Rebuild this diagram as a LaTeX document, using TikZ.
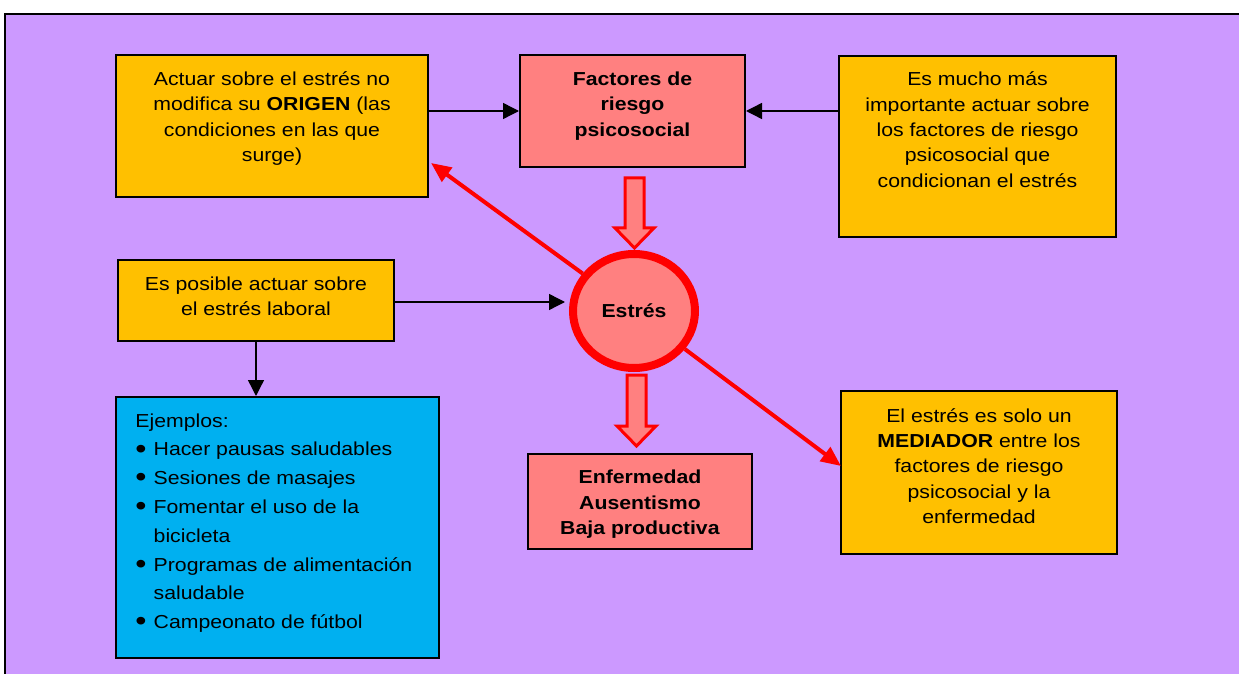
\documentclass[tikz,border=0pt]{standalone}
\usepackage{fontspec}
\setmainfont{Liberation Sans}
\usepackage{graphicx}
\usetikzlibrary{shapes.geometric,arrows.meta,calc}
\definecolor{bgpurple}{HTML}{CC99FF}
\definecolor{boxorange}{HTML}{FFC000}
\definecolor{boxpink}{HTML}{FF8080}
\definecolor{boxblue}{HTML}{00B0F0}
\definecolor{arrred}{HTML}{FF0000}
\newcommand{\txc}[1]{\scalebox{1.13}[1]{\begin{tabular}{@{}c@{}}#1\end{tabular}}}
\newcommand{\txl}[1]{\scalebox{1.13}[1]{\begin{tabular}{@{}l@{}}#1\end{tabular}}}
\newcommand{\bul}{\makebox[8.1pt][l]{\raisebox{-1.1pt}{\scalebox{1.5}{\textbullet}}}}
\begin{document}
\begin{tikzpicture}[x=0.5pt,y=-0.5pt,
  every node/.style={font=\fontsize{9.4}{12.65}\selectfont},
  box/.style={draw=black, line width=1pt, rectangle, inner sep=0pt},
  orangebox/.style={box, fill=boxorange},
  pinkbox/.style={box, fill=boxpink},
  bluebox/.style={box, fill=boxblue},
  txt/.style={inner sep=0pt, anchor=north},
  blk/.style={draw=black, line width=0.7pt, -{Triangle[length=8pt,width=8pt]}},
  redarr/.style={draw=arrred, line width=2pt, -{Triangle[length=10pt,width=8.5pt]}},
  fatarrow/.style={draw=arrred, line width=1.5pt, fill=boxpink, line join=miter}
]
\clip (0,0) rectangle (1239,674);
% background frame
\draw[fill=bgpurple, line width=1pt] (5,14) rectangle (1300,720);

% boxes
\node[orangebox, minimum width=156pt, minimum height=71pt] (box1) at (272,126) {};
\node[pinkbox, minimum width=112.5pt, minimum height=56pt] (fact) at (632.5,111) {};
\node[orangebox, minimum width=138.5pt, minimum height=90.5pt] (box3) at (977.5,146.5) {};
\node[orangebox, minimum width=138pt, minimum height=40.5pt] (box4) at (256,300.5) {};
\node[bluebox, minimum width=161.5pt, minimum height=130.5pt] (blue) at (277.5,527.5) {};
\node[pinkbox, minimum width=112pt, minimum height=47.5pt] (enf) at (640,501.5) {};
\node[orangebox, minimum width=138pt, minimum height=81.5pt] (box8) at (979,472.5) {};
\node[ellipse, draw=arrred, fill=boxpink, line width=4pt, minimum width=61pt, minimum height=57pt, inner sep=0pt] (estres) at (634,311) {\scalebox{1.13}[1]{\textbf{Estrés}}};

% texts
\node[txt] (t-box1) at (272,67.3) {\txc{Actuar sobre el estrés no\\ modifica su \textbf{ORIGEN} (las\\ condiciones en las que\\ surge)}};
\node[txt] (t-fact) at (632.5,67.3) {\txc{\textbf{Factores de}\\ \textbf{riesgo}\\ \textbf{psicosocial}}};
\node[txt] (t-box3) at (977.5,67.8) {\txc{Es mucho más\\ importante actuar sobre\\ los factores de riesgo\\ psicosocial que\\ condicionan el estrés}};
\node[txt] (t-box4) at (256,272.3) {\txc{Es posible actuar sobre\\ el estrés laboral}};
\node[txt] (t-enf) at (640,465.6) {\txc{\textbf{Enfermedad}\\ \textbf{Ausentismo}\\ \textbf{Baja productiva}}};
\node[txt] (t-box8) at (979,404) {\txc{El estrés es solo un\\ \textbf{MEDIADOR} entre los\\ factores de riesgo\\ psicosocial y la\\ enfermedad}};
\node[inner sep=0pt, anchor=north west, font=\fontsize{9.4}{14.4}\selectfont] (t-blue) at (135,406.5) {\txl{Ejemplos:\\
\bul Hacer pausas saludables\\
\bul Sesiones de masajes\\
\bul Fomentar el uso de la\\
\hspace*{8.1pt}bicicleta\\
\bul Programas de alimentación\\
\hspace*{8.1pt}saludable\\
\bul Campeonato de fútbol}};

% black connectors
\draw[blk] (box1.east |- fact.west) -- (fact.west);
\draw[blk] (box3.west |- fact.east) -- (fact.east);
\draw[blk, shorten >=2pt] ($(box4.east)+(0,1.5)$) -- ($(box4.east -| estres.west)+(0,1.5)$);
\draw[blk] (box4.south) -- (box4.south |- blue.north);

% red connectors
\coordinate (tip1) at (431,163);
\coordinate (tip2) at (841,466);
\draw[redarr] (estres) -- (tip1);
\draw[redarr] (estres) -- (tip2);

% fat arrows
\draw[fatarrow] (625,178) -- (644,178) -- (644,228) -- (654,228) -- (634.5,248) -- (615,228) -- (625,228) -- cycle;
\draw[fatarrow] (627,375) -- (646,375) -- (646,426) -- (656,426) -- (636.5,446) -- (617,426) -- (627,426) -- cycle;
\end{tikzpicture}
\end{document}
